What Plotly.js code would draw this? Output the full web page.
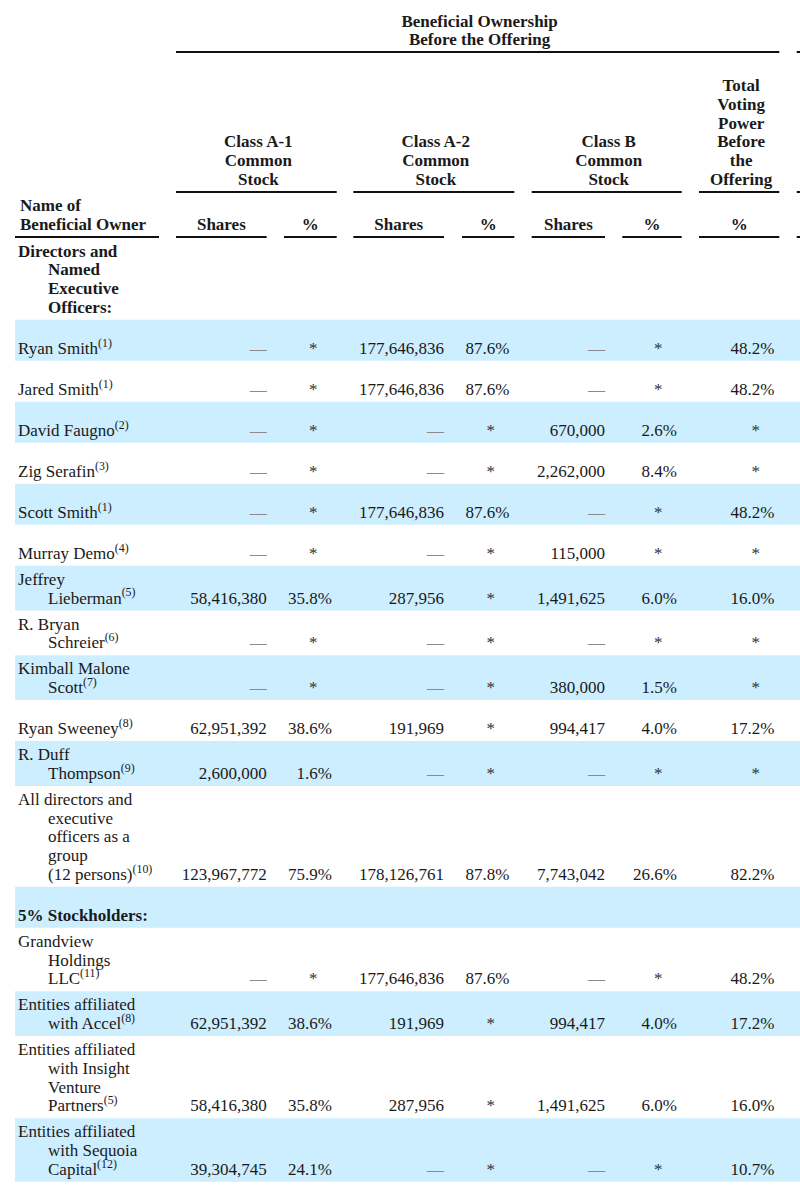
<!DOCTYPE html>
<html><head><meta charset="utf-8">
<script src="https://cdn.plot.ly/plotly-3.0.1.min.js"></script>
<style>html,body{margin:0;padding:0;background:#fff}</style>
</head><body><div id="chart" style="width:800px;height:1195px"></div>
<script>
// ---------------- DATA ----------------
const topHeader = ["Beneficial Ownership", "Before the Offering"];
const groupHeaders = [
  ["Class A-1", "Common", "Stock"],
  ["Class A-2", "Common", "Stock"],
  ["Class B", "Common", "Stock"],
  ["Total", "Voting", "Power", "Before", "the", "Offering"]
];
const nameHeader = ["Name of", "Beneficial Owner"];
const subHeaders = ["Shares", "%", "Shares", "%", "Shares", "%", "%"];

const rowKinds = ["section","owner","owner","owner","owner","owner","owner","owner","owner","owner","owner","owner","owner","section","owner","owner","owner","owner"];
const ownerNames = [
  "Directors and<br>Named<br>Executive<br>Officers:",
  "Ryan Smith<sup>(1)</sup>",
  "Jared Smith<sup>(1)</sup>",
  "David Faugno<sup>(2)</sup>",
  "Zig Serafin<sup>(3)</sup>",
  "Scott Smith<sup>(1)</sup>",
  "Murray Demo<sup>(4)</sup>",
  "Jeffrey<br>Lieberman<sup>(5)</sup>",
  "R. Bryan<br>Schreier<sup>(6)</sup>",
  "Kimball Malone<br>Scott<sup>(7)</sup>",
  "Ryan Sweeney<sup>(8)</sup>",
  "R. Duff<br>Thompson<sup>(9)</sup>",
  "All directors and<br>executive<br>officers as a<br>group<br>(12 persons)<sup>(10)</sup>",
  "5% Stockholders:",
  "Grandview<br>Holdings<br>LLC<sup>(11)</sup>",
  "Entities affiliated<br>with Accel<sup>(8)</sup>",
  "Entities affiliated<br>with Insight<br>Venture<br>Partners<sup>(5)</sup>",
  "Entities affiliated<br>with Sequoia<br>Capital<sup>(12)</sup>"
];
const a1Shares = ["", "—","—","—","—","—","—","58,416,380","—","—","62,951,392","2,600,000","123,967,772","", "—","62,951,392","58,416,380","39,304,745"];
const a1Pct    = ["", "*","*","*","*","*","*","35.8%","*","*","38.6%","1.6%","75.9%","", "*","38.6%","35.8%","24.1%"];
const a2Shares = ["", "177,646,836","177,646,836","—","—","177,646,836","—","287,956","—","—","191,969","—","178,126,761","", "177,646,836","191,969","287,956","—"];
const a2Pct    = ["", "87.6%","87.6%","*","*","87.6%","*","*","*","*","*","*","87.8%","", "87.6%","*","*","*"];
const bShares  = ["", "—","—","670,000","2,262,000","—","115,000","1,491,625","—","380,000","994,417","—","7,743,042","", "—","994,417","1,491,625","—"];
const bPct     = ["", "*","*","2.6%","8.4%","*","*","6.0%","*","1.5%","4.0%","*","26.6%","", "*","4.0%","6.0%","*"];
const totalPct = ["", "48.2%","48.2%","*","*","48.2%","*","16.0%","*","*","17.2%","*","82.2%","", "48.2%","17.2%","16.0%","10.7%"];

// ---------------- LAYOUT CONFIG ----------------
const W = 800, H = 1195;
const FONT = '"Liberation Serif", "Times New Roman", Times, serif';
const FS = 17, LH = 18.7, MINROW = 41, ROWPAD = 7.4, BASEPAD = 7;
const TXT = '#1a1a1a', DASH = '#8c8c8c', BAND = '#cceeff', RULE = '#111';
const BODY_TOP = 237.5;
const NAME_X = 18, NAME_INDENT = 48;

const columns = [
  {vals: a1Shares, left: 176,   right: 266.7, kind: 'shares'},
  {vals: a1Pct,    left: 284,   right: 336.7, kind: 'pct'},
  {vals: a2Shares, left: 353.3, right: 444,   kind: 'shares'},
  {vals: a2Pct,    left: 462,   right: 514.3, kind: 'pct'},
  {vals: bShares,  left: 531.7, right: 605,   kind: 'shares'},
  {vals: bPct,     left: 622.3, right: 681.7, kind: 'pct'},
  {vals: totalPct, left: 699,   right: 779.3, kind: 'pct'}
];
const groups = [
  {left: 176, right: 336.7},
  {left: 353.3, right: 514.3},
  {left: 531.7, right: 681.7},
  {left: 699, right: 779.3}
];
const NEXT_LEFT = 796.7;
const TOP_RULE_Y = 52, GROUP_RULE_Y = 192, SUB_RULE_Y = 237;
const NAME_RULE = {left: 15, right: 159};

// baseline -> plotly y for 'middle' text
const yb = b => b - 0.25 * FS;

// ---------------- BUILD ----------------
const shapes = [];
const traces = [];
function textTrace(xs, ys, texts, pos, opts) {
  opts = opts || {};
  traces.push({
    type: 'scatter', mode: 'text', x: xs, y: ys, text: texts,
    textposition: pos, hoverinfo: 'skip', showlegend: false, cliponaxis: false,
    textfont: {family: FONT, size: FS, color: opts.color || TXT, weight: opts.bold ? 700 : 400}
  });
}
function hline(x0, x1, y) {
  shapes.push({type: 'line', xref: 'x', yref: 'y', x0, x1, y0: y, y1: y, line: {color: RULE, width: 2}});
}

// rows
let cursor = BODY_TOP;
const rows = ownerNames.map((nm, i) => {
  const lines = nm.split('<br>');
  const h = Math.max(MINROW, ROWPAD + LH * lines.length);
  const r = {top: cursor, bottom: cursor + h, lines};
  cursor += h;
  return r;
});
rows.forEach((r, i) => {
  if (i % 2 === 1) {
    shapes.push({type: 'rect', xref: 'x', yref: 'y', x0: 15, x1: W, y0: r.top, y1: r.bottom,
      fillcolor: BAND, line: {width: 0}, layer: 'below'});
  }
});

// names
const nFirst = {x: [], y: [], t: []}, nRest = {x: [], y: [], t: []};
const sFirst = {x: [], y: [], t: []}, sRest = {x: [], y: [], t: []};
rows.forEach((r, i) => {
  const n = r.lines.length;
  r.lines.forEach((ln, j) => {
    const base = r.bottom - BASEPAD - (n - 1 - j) * LH;
    const bucket = rowKinds[i] === 'section' ? (j === 0 ? sFirst : sRest) : (j === 0 ? nFirst : nRest);
    bucket.x.push(j === 0 ? NAME_X : NAME_INDENT);
    bucket.y.push(yb(base));
    bucket.t.push(ln);
  });
});
textTrace(nFirst.x, nFirst.y, nFirst.t, 'middle right');
textTrace(nRest.x, nRest.y, nRest.t, 'middle right');
textTrace(sFirst.x, sFirst.y, sFirst.t, 'middle right', {bold: true});
textTrace(sRest.x, sRest.y, sRest.t, 'middle right', {bold: true});

// values
columns.forEach(col => {
  const rx = [], ry = [], rt = [], rc = [];
  const cx = [], cy = [], ct = [];
  col.vals.forEach((v, i) => {
    if (!v) return;
    const base = rows[i].bottom - BASEPAD;
    if (v === '*') {
      cx.push(col.right - 23.5); cy.push(yb(base)); ct.push(v);
    } else {
      rx.push(col.kind === 'pct' ? col.right - 4.8 : col.right);
      ry.push(yb(base)); rt.push(v); rc.push(v === '—' ? DASH : TXT);
    }
  });
  textTrace(rx, ry, rt, 'middle left', {});
  traces[traces.length - 1].textfont.color = rc;
  textTrace(cx, cy, ct, 'middle center', {color: '#333'});
});

// headers
const allLeft = groups[0].left, allRight = groups[groups.length - 1].right;
const topCenter = (allLeft + allRight) / 2 + 2;
textTrace(topHeader.map(() => topCenter), topHeader.map((_, j) => yb(26.5 + j * 18.8)), topHeader, 'middle center', {bold: true});
hline(allLeft, allRight, TOP_RULE_Y);
hline(NEXT_LEFT, W + 2, TOP_RULE_Y);

groupHeaders.forEach((g, k) => {
  const cxp = (groups[k].left + groups[k].right) / 2 + 2;
  const n = g.length;
  textTrace(g.map(() => cxp), g.map((_, j) => yb(185 - (n - 1 - j) * 18.8)), g, 'middle center', {bold: true});
  hline(groups[k].left, groups[k].right, GROUP_RULE_Y);
});
hline(NEXT_LEFT, W + 2, GROUP_RULE_Y);

textTrace(columns.map(c => (c.left + c.right) / 2), columns.map(() => yb(229.5)), subHeaders, 'middle center', {bold: true});
columns.forEach(c => hline(c.left, c.right, SUB_RULE_Y));
hline(NEXT_LEFT, W + 2, SUB_RULE_Y);

textTrace(nameHeader.map(() => 20), nameHeader.map((_, j) => yb(229.5 - (nameHeader.length - 1 - j) * 18.8)), nameHeader, 'middle right', {bold: true});
hline(NAME_RULE.left, NAME_RULE.right, SUB_RULE_Y);

const layout = {
  width: W, height: H,
  margin: {l: 0, r: 0, t: 0, b: 0, pad: 0},
  paper_bgcolor: '#fff', plot_bgcolor: '#fff',
  xaxis: {range: [0, W], visible: false, fixedrange: true},
  yaxis: {range: [H, 0], visible: false, fixedrange: true},
  shapes, showlegend: false, hovermode: false
};
Plotly.newPlot('chart', traces, layout, {staticPlot: true, displayModeBar: false});
</script>
</body></html>
